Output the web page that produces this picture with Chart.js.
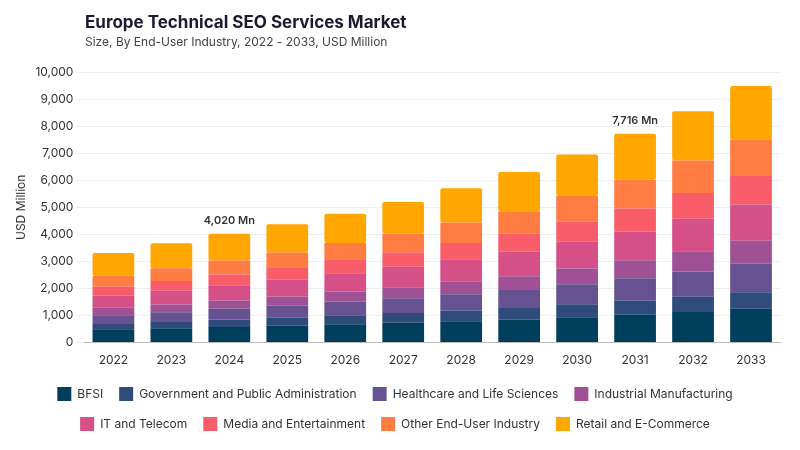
<!DOCTYPE html>
<html>
<head>
<meta charset="utf-8">
<script src="https://cdn.jsdelivr.net/npm/chart.js@4"></script>
<style>
  html, body { margin: 0; background: #fff; }
  #wrap { width: 800px; height: 450px; position: relative; }
</style>
</head>
<body>
<div id="wrap"><canvas id="c"></canvas></div>
<script>
Chart.defaults.font.family = 'Inter, "Noto Sans", sans-serif';
Chart.defaults.color = '#333';

const years = ['2022', '2023', '2024', '2025', '2026', '2027', '2028', '2029', '2030', '2031', '2032', '2033'];

const bfsi = [490, 530, 575, 620, 680, 730, 790, 850, 940, 1025, 1130, 1250];
const government = [200, 235, 275, 300, 335, 365, 400, 430, 475, 520, 565, 615];
const healthcare = [320, 360, 410, 450, 500, 545, 600, 660, 740, 830, 930, 1050];
const industrial = [275, 285, 295, 330, 370, 410, 460, 510, 580, 665, 750, 850];
const itTelecom = [445, 505, 565, 620, 680, 750, 830, 910, 990, 1065, 1200, 1335];
const media = [333, 365, 395, 440, 490, 540, 600, 660, 750, 850, 950, 1060];
const otherIndustry = [407, 465, 520, 570, 630, 690, 760, 830, 940, 1061, 1200, 1345];
const retail = [837, 925, 985, 1040, 1075, 1170, 1260, 1450, 1540, 1700, 1825, 1975];

const annotated = { '2024': '4,020 Mn', '2031': '7,716 Mn' };

const series = [
    ['BFSI', bfsi, '#003f5c'],
    ['Government and Public Administration', government, '#2f4b7c'],
    ['Healthcare and Life Sciences', healthcare, '#665191'],
    ['Industrial Manufacturing', industrial, '#a05195'],
    ['IT and Telecom', itTelecom, '#d45087'],
    ['Media and Entertainment', media, '#f95d6a'],
    ['Other End-User Industry', otherIndustry, '#ff7c43'],
    ['Retail and E-Commerce', retail, '#ffa600'],
];

// heading drawn at a fixed indent, plus totals above chosen bars
const overlay = {
    id: 'overlay',
    afterDatasetsDraw(chart) {
        const { ctx } = chart;
        ctx.save();
        ctx.textAlign = 'left';
        ctx.textBaseline = 'alphabetic';
        ctx.fillStyle = '#1a1a2e';
        ctx.font = 'bold 17px Inter, sans-serif';
        ctx.fillText('Europe Technical SEO Services Market', 85, 28);
        ctx.fillStyle = '#444';
        ctx.font = '12px Inter, sans-serif';
        ctx.fillText('Size, By End-User Industry, 2022 - 2033, USD Million', 85, 46);

        const last = chart.getDatasetMeta(chart.data.datasets.length - 1);
        ctx.font = '600 11px Inter, sans-serif';
        ctx.fillStyle = '#333';
        ctx.textAlign = 'center';
        ctx.textBaseline = 'bottom';
        years.forEach((y, i) => {
            if (!annotated[y]) return;
            const bar = last.data[i];
            ctx.fillText(annotated[y], bar.x, bar.y - 8);
        });
        ctx.restore();
    },
};

new Chart(document.getElementById('c'), {
    type: 'bar',
    data: {
        labels: years,
        datasets: series.map(([label, data, color]) => ({
            label,
            data,
            backgroundColor: color,
            borderWidth: 0,
            borderRadius: 2,
            borderSkipped: false,
            categoryPercentage: 0.8,
            barPercentage: 0.9,
        })),
    },
    options: {
        responsive: true,
        maintainAspectRatio: false,
        animation: false,
        layout: { padding: { left: 10, right: 20, top: 72, bottom: 9 } },
        scales: {
            x: {
                stacked: true,
                grid: { display: false },
                border: { color: '#bbb' },
                ticks: { font: { size: 12 }, color: '#333' },
            },
            y: {
                stacked: true,
                min: 0,
                max: 10000,
                ticks: { stepSize: 1000, font: { size: 12 }, color: '#333' },
                grid: { color: '#eeeeee' },
                border: { display: false },
                title: { display: true, text: 'USD Million', font: { size: 12 }, color: '#333' },
            },
        },
        plugins: {
            legend: {
                position: 'bottom',
                labels: { boxWidth: 14, boxHeight: 14, padding: 16, font: { size: 12 }, color: '#333' },
            },
            tooltip: { enabled: false },
        },
    },
    plugins: [overlay],
});
</script>
</body>
</html>
